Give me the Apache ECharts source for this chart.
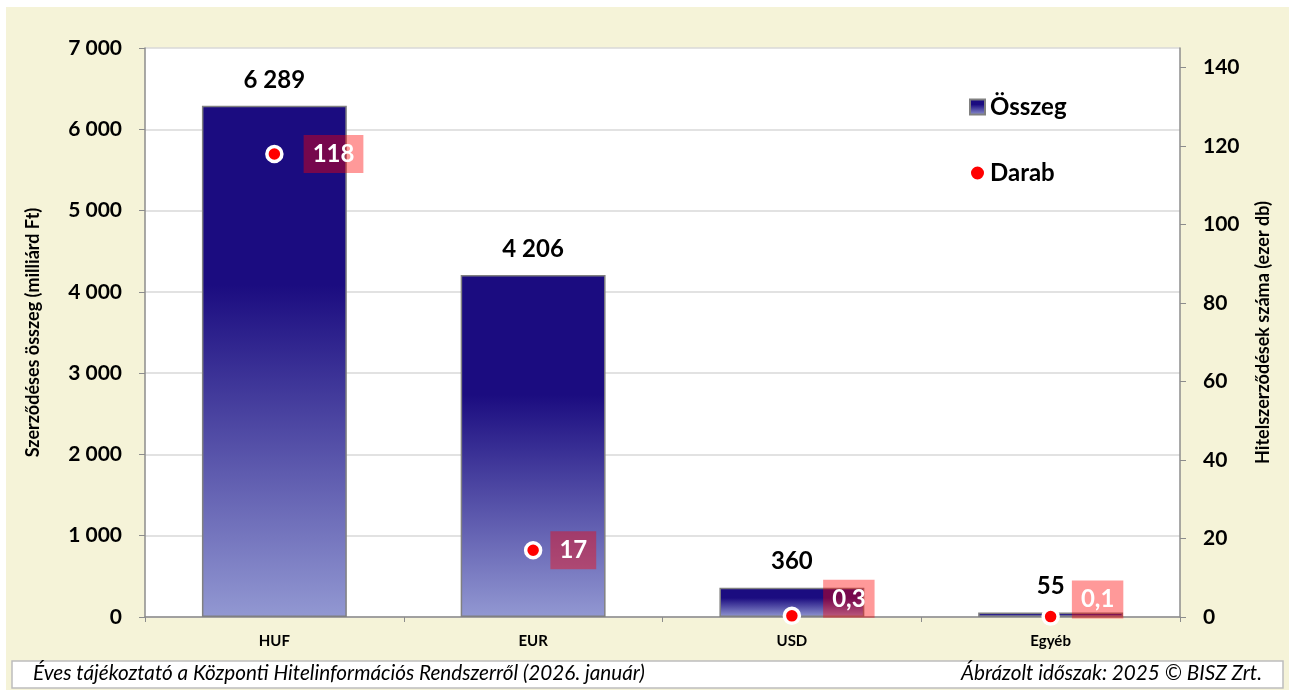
<!DOCTYPE html>
<html>
<head>
<meta charset="utf-8">
<script src="https://cdn.jsdelivr.net/npm/echarts@6/dist/echarts.min.js"></script>
<style>
  html, body { margin: 0; padding: 0; background: #fff; }
  #chart { width: 1289px; height: 690px; }
</style>
</head>
<body>
<div id="chart"></div>
<script>
// adatok
const categories = ['HUF', 'EUR', 'USD', 'Egyéb'];
const osszeg = [6289, 4206, 360, 55];
const darab = [118, 17, 0.3, 0.1];
const rightTicks = [0, 20, 40, 60, 80, 100, 120, 140];
// címkék eltolása (a kép alapján)
const labelShift = [[0, 0], [-12, 0], [2, -17], [-8, -17]];

const font = 'Lato, "Open Sans", sans-serif';

// ezres tagolás szóközzel
function fmt(v) {
    return String(v).replace(/\B(?=(\d{3})+(?!\d))/g, ' ');
}

let barColor = new echarts.graphic.LinearGradient(0, 0, 0, 1, [
    { offset: 0, color: '#1b0c80' },
    { offset: 0.35, color: '#1b0c80' },
    { offset: 1, color: '#9298d2' }
]);

let darabData = darab.map((v, i) => ({
    value: v,
    label: { offset: labelShift[i] }
}));

let myChart = echarts.init(document.getElementById('chart'));
let option = {
    animation: false,
    textStyle: { fontFamily: font },
    graphic: [
        {
            type: 'rect', z: -10, silent: true,
            shape: { x: 6, y: 7, width: 1283, height: 683 },
            style: { fill: '#f5f3d8' }
        },
        {
            type: 'rect', z: -9, silent: true,
            shape: { x: 145, y: 48, width: 1035, height: 569 },
            style: { fill: '#ffffff' }
        },
        {
            type: 'rect', z: -8, silent: true,
            shape: { x: 12, y: 661, width: 1271, height: 27 },
            style: { fill: '#ffffff', stroke: '#bdbdbd', lineWidth: 1.5 }
        },
        {
            type: 'text', silent: true,
            left: 33, top: 663,
            style: {
                text: 'Éves tájékoztató a Központi Hitelinformációs Rendszerről (2026. január)',
                font: 'italic 20.7px ' + font, fill: '#000'
            }
        },
        {
            type: 'text', silent: true,
            right: 27, top: 663,
            style: {
                text: 'Ábrázolt időszak: 2025 © BISZ Zrt.',
                font: 'italic 20.7px ' + font, fill: '#000'
            }
        }
    ],
    grid: {
        left: 145,
        right: 109,
        top: 48,
        bottom: 73
    },
    legend: {
        orient: 'vertical',
        left: 964,
        top: 90,
        itemGap: 42,
        itemWidth: 15,
        itemHeight: 15,
        textStyle: { fontSize: 24, fontWeight: 'bold', color: '#000', fontFamily: font },
        data: [
            { name: 'Összeg', icon: 'rect' },
            { name: 'Darab', icon: 'circle' }
        ]
    },
    xAxis: {
        type: 'category',
        data: categories,
        axisLine: { lineStyle: { color: '#8c8c8c', width: 1.5 } },
        axisTick: { show: true, length: 5, lineStyle: { color: '#8c8c8c' } },
        axisLabel: { color: '#000', fontSize: 15, fontWeight: 'bold', margin: 17 }
    },
    yAxis: [
        {
            type: 'value',
            min: 0,
            max: 7000,
            interval: 1000,
            name: 'Szerződéses összeg (milliárd Ft)',
            nameLocation: 'middle',
            nameGap: 103,
            nameTextStyle: { fontSize: 18, fontWeight: 'bold', color: '#000' },
            axisLine: { show: true, lineStyle: { color: '#8c8c8c', width: 1.5 } },
            axisTick: { show: true, length: 6, lineStyle: { color: '#8c8c8c' } },
            axisLabel: { color: '#000', fontSize: 21, fontWeight: 'bold', margin: 23, formatter: fmt },
            splitLine: { lineStyle: { color: '#d9d9d9', width: 1.5 } }
        },
        {
            type: 'value',
            min: 0,
            max: 145,
            interval: 20,
            name: 'Hitelszerződések száma (ezer db)',
            nameLocation: 'middle',
            nameGap: 74,
            nameTextStyle: { fontSize: 18, fontWeight: 'bold', color: '#000' },
            axisLine: { show: true, lineStyle: { color: '#8c8c8c', width: 1.5 } },
            axisTick: { show: true, length: 6, lineStyle: { color: '#8c8c8c' }, customValues: rightTicks },
            axisLabel: {
                color: '#000', fontSize: 21, fontWeight: 'bold', margin: 23,
                customValues: rightTicks
            },
            splitLine: { show: false }
        }
    ],
    series: [
        {
            name: 'Összeg',
            type: 'bar',
            yAxisIndex: 0,
            barWidth: '56%',
            data: osszeg,
            itemStyle: { color: barColor, borderColor: '#808080', borderWidth: 1.5 },
            label: {
                show: true,
                position: 'top',
                distance: 14,
                color: '#000',
                fontSize: 24,
                fontWeight: 'bold',
                formatter: p => fmt(p.value)
            }
        },
        {
            name: 'Darab',
            type: 'scatter',
            yAxisIndex: 1,
            symbol: 'circle',
            symbolSize: 15,
            z: 5,
            data: darabData,
            itemStyle: { color: '#ff0000', borderColor: '#ffffff', borderWidth: 3.5, opacity: 1 },
            label: {
                show: true,
                position: 'right',
                distance: 20,
                color: '#fff',
                fontSize: 24,
                fontWeight: 'bold',
                backgroundColor: 'rgba(255,0,0,0.4)',
                padding: [8, 9, 6, 9],
                formatter: p => String(p.value).replace('.', ',')
            }
        }
    ]
};
myChart.setOption(option);
</script>
</body>
</html>
